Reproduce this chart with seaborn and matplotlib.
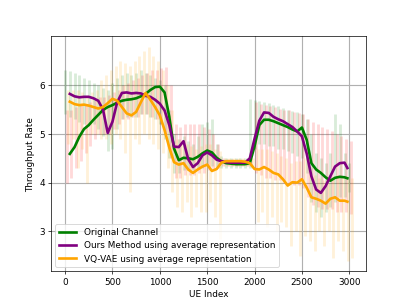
import numpy as np
import pandas as pd
import matplotlib
matplotlib.use("Agg")
import matplotlib.pyplot as plt
import seaborn as sns

# ---------------- data ----------------
series_names = ["Original Channel",
                "Ours Method using average representation",
                "VQ-VAE using average representation"]
line_colors = ["green", "purple", "orange"]
band_colors = ["green", "red", "orange"]

line_x = [50, 100, 150, 200, 250, 300, 350, 400, 450, 500, 550, 600, 650, 700, 750,
          800, 850, 900, 950, 1000, 1050, 1100, 1150, 1200, 1250, 1300, 1350, 1400,
          1450, 1500, 1550, 1600, 1650, 1700, 1750, 1800, 1850, 1900, 1950, 2000,
          2050, 2100, 2150, 2200, 2250, 2300, 2350, 2400, 2450, 2500, 2550, 2600,
          2650, 2700, 2750, 2800, 2850, 2900, 2950, 2980]

original = [4.59, 4.73, 4.94, 5.10, 5.18, 5.29, 5.39, 5.49, 5.55, 5.59, 5.64, 5.68, 5.70,
            5.71, 5.73, 5.77, 5.82, 5.90, 5.96, 5.97, 5.85, 5.35, 4.70, 4.46, 4.51, 4.50,
            4.48, 4.53, 4.60, 4.66, 4.62, 4.51, 4.44, 4.40, 4.39, 4.38, 4.38, 4.38, 4.40,
            4.75, 5.18, 5.29, 5.29, 5.26, 5.22, 5.18, 5.14, 5.09, 5.05, 5.13, 4.88, 4.40,
            4.27, 4.20, 4.11, 4.04, 4.10, 4.12, 4.11, 4.09]

ours = [5.82, 5.77, 5.75, 5.76, 5.76, 5.73, 5.68, 5.50, 5.02, 5.25, 5.65, 5.84, 5.85,
        5.83, 5.84, 5.83, 5.78, 5.76, 5.70, 5.62, 5.48, 5.18, 4.74, 4.73, 4.85, 4.48,
        4.32, 4.40, 4.56, 4.62, 4.56, 4.47, 4.44, 4.42, 4.41, 4.41, 4.41, 4.41, 4.50,
        4.90, 5.27, 5.44, 5.43, 5.35, 5.30, 5.26, 5.20, 5.14, 5.05, 4.95, 4.60, 4.13,
        3.86, 3.79, 3.93, 4.13, 4.33, 4.40, 4.41, 4.30]

vqvae = [5.66, 5.61, 5.59, 5.60, 5.58, 5.55, 5.52, 5.55, 5.63, 5.72, 5.68, 5.55, 5.42,
         5.38, 5.45, 5.65, 5.84, 5.70, 5.55, 5.38, 5.08, 4.72, 4.42, 4.37, 4.40, 4.27,
         4.20, 4.27, 4.33, 4.37, 4.24, 4.28, 4.41, 4.44, 4.44, 4.44, 4.44, 4.43, 4.40,
         4.28, 4.27, 4.32, 4.27, 4.20, 4.17, 4.07, 3.94, 4.01, 4.00, 4.07, 3.90, 3.70,
         3.67, 3.63, 3.57, 3.67, 3.70, 3.63, 3.63, 3.61]

band_x = [0, 50, 100, 150, 200, 250, 300, 350, 400, 450, 500, 550, 600, 650, 700, 750,
          800, 850, 900, 950, 1000, 1050, 1100, 1150, 1200, 1250, 1300, 1350, 1400,
          1450, 1500, 1550, 1600, 1650, 1700, 1750, 1800, 1850, 1900, 1950, 2000,
          2050, 2100, 2150, 2200, 2250, 2300, 2350, 2400, 2450, 2500, 2550, 2600,
          2650, 2700, 2750, 2800, 2850, 2900, 2950, 3000]

green_upper = [6.30, 6.28, 6.25, 6.20, 6.15, 6.10, 6.05, 6.00, 5.95, 5.90, 6.05, 6.15, 6.20,
               6.25, 6.20, 6.25, 6.30, 6.25, 6.20, 6.15, 6.10, 6.00, 5.50, 5.00, 4.90, 4.95,
               4.85, 4.80, 4.95, 5.20, 5.25, 5.30, 4.80, 4.55, 4.50, 4.50, 4.50, 4.50, 4.50,
               5.72, 5.70, 5.68, 5.66, 5.63, 5.60, 5.57, 5.54, 5.50, 5.47, 5.44, 5.40, 5.30,
               5.00, 4.60, 4.50, 4.40, 4.60, 5.40, 5.20, 4.60, 4.40]
green_lower = [5.40, 5.35, 5.30, 5.25, 5.20, 5.20, 5.20, 5.10, 4.95, 4.65, 4.70, 5.10, 5.30,
               5.35, 5.35, 5.35, 5.40, 5.40, 5.35, 5.30, 5.20, 4.90, 4.50, 4.20, 4.20, 4.25,
               4.25, 4.25, 4.30, 4.30, 4.35, 4.35, 4.30, 4.30, 4.30, 4.30, 4.30, 4.30, 4.30,
               4.30, 4.70, 4.80, 4.80, 4.75, 4.75, 4.70, 4.70, 4.65, 4.60, 4.55, 4.50, 4.20,
               3.60, 3.40, 3.30, 3.40, 3.50, 3.60, 3.70, 3.70, 3.80]

red_upper = [5.50, 5.50, 5.55, 5.60, 5.60, 5.65, 5.70, 5.75, 5.75, 5.80, 5.85, 5.90, 6.00,
             6.05, 6.10, 6.15, 6.20, 6.25, 6.30, 6.30, 6.35, 6.37, 6.00, 5.20, 5.15, 5.20,
             5.20, 5.20, 5.20, 5.15, 5.10, 5.00, 4.80, 4.50, 4.48, 4.48, 4.48, 4.48, 4.48,
             4.50, 5.65, 5.62, 5.60, 5.58, 5.55, 5.52, 5.50, 5.48, 5.45, 5.42, 5.40, 5.30,
             5.25, 5.20, 5.15, 5.10, 5.05, 5.00, 4.95, 4.90, 4.85]
red_lower = [4.00, 4.10, 4.30, 4.45, 4.60, 4.75, 4.90, 5.00, 5.00, 5.00, 5.10, 5.20, 5.30,
             5.30, 5.35, 5.35, 5.40, 5.40, 5.35, 5.30, 5.20, 5.00, 4.50, 4.10, 4.10, 4.15,
             4.15, 4.15, 4.20, 4.20, 4.25, 4.25, 4.30, 4.35, 4.35, 4.35, 4.35, 4.35, 4.35,
             4.35, 4.20, 4.15, 4.10, 4.10, 4.05, 4.05, 4.00, 4.00, 3.95, 3.95, 3.90, 3.70,
             3.55, 3.50, 3.45, 3.45, 3.45, 3.40, 3.40, 3.40, 3.35]

orange_upper = [5.90, 5.90, 5.90, 5.85, 5.80, 5.85, 5.90, 6.10, 6.20, 6.30, 6.40, 6.50, 6.45,
                6.40, 6.50, 6.60, 6.70, 6.78, 6.60, 6.50, 6.30, 6.00, 5.50, 4.90, 4.85, 4.80,
                4.75, 4.70, 4.75, 4.80, 4.80, 4.70, 4.65, 4.50, 4.50, 4.50, 4.50, 4.50, 4.50,
                4.50, 4.70, 4.70, 4.70, 4.65, 4.60, 4.55, 4.50, 4.40, 4.45, 4.45, 4.50, 4.35,
                4.15, 4.10, 4.05, 4.00, 4.10, 4.15, 4.10, 4.10, 4.10]
orange_lower = [4.80, 4.90, 4.30, 4.70, 4.00, 5.00, 5.00, 4.90, 4.90, 4.80, 5.00, 4.90, 4.60,
                3.80, 4.90, 4.80, 5.00, 4.90, 4.80, 4.70, 4.60, 4.30, 3.80, 3.50, 3.40, 3.60,
                3.30, 3.50, 3.40, 3.40, 3.60, 3.30, 2.85, 4.35, 4.35, 4.35, 4.35, 4.35, 4.35,
                4.35, 3.20, 3.40, 3.10, 3.30, 3.00, 3.20, 3.10, 2.70, 3.00, 2.50, 2.90, 2.80,
                2.60, 3.00, 2.70, 3.00, 2.45, 2.80, 2.60, 2.40, 2.45]

x_ticks = [0, 500, 1000, 1500, 2000, 2500, 3000]
y_ticks = [3, 4, 5, 6]

# ---------------- plot ----------------
fig, ax = plt.subplots(figsize=(6.4, 4.8), dpi=63.6)

bands = [(green_lower, green_upper), (red_lower, red_upper), (orange_lower, orange_upper)]
offsets = [0, 16, 33]
for (lo, hi), col, off in zip(bands, band_colors, offsets):
    bx = np.asarray(band_x, dtype=float) + off
    ax.vlines(bx, lo, hi, colors=col, alpha=0.15, linewidth=3.2, zorder=1)

df = pd.concat([
    pd.DataFrame({"x": line_x, "y": vals, "series": name})
    for vals, name in zip([original, ours, vqvae], series_names)
])
sns.lineplot(data=df, x="x", y="y", hue="series", hue_order=series_names,
             palette=dict(zip(series_names, line_colors)), linewidth=3,
             ax=ax, zorder=3, estimator=None, sort=True)

ax.set_xlim(-150, 3180)
ax.set_ylim(2.18, 7.0)
ax.set_xticks(x_ticks)
ax.set_yticks(y_ticks)
ax.grid(True, color="#b0b0b0", linewidth=1.3)
ax.set_axisbelow(True)
ax.set_xlabel("UE Index")
ax.set_ylabel("Throughput Rate")
ax.legend(loc="lower left", title=None)

fig.savefig("out.png", dpi=63.6)
